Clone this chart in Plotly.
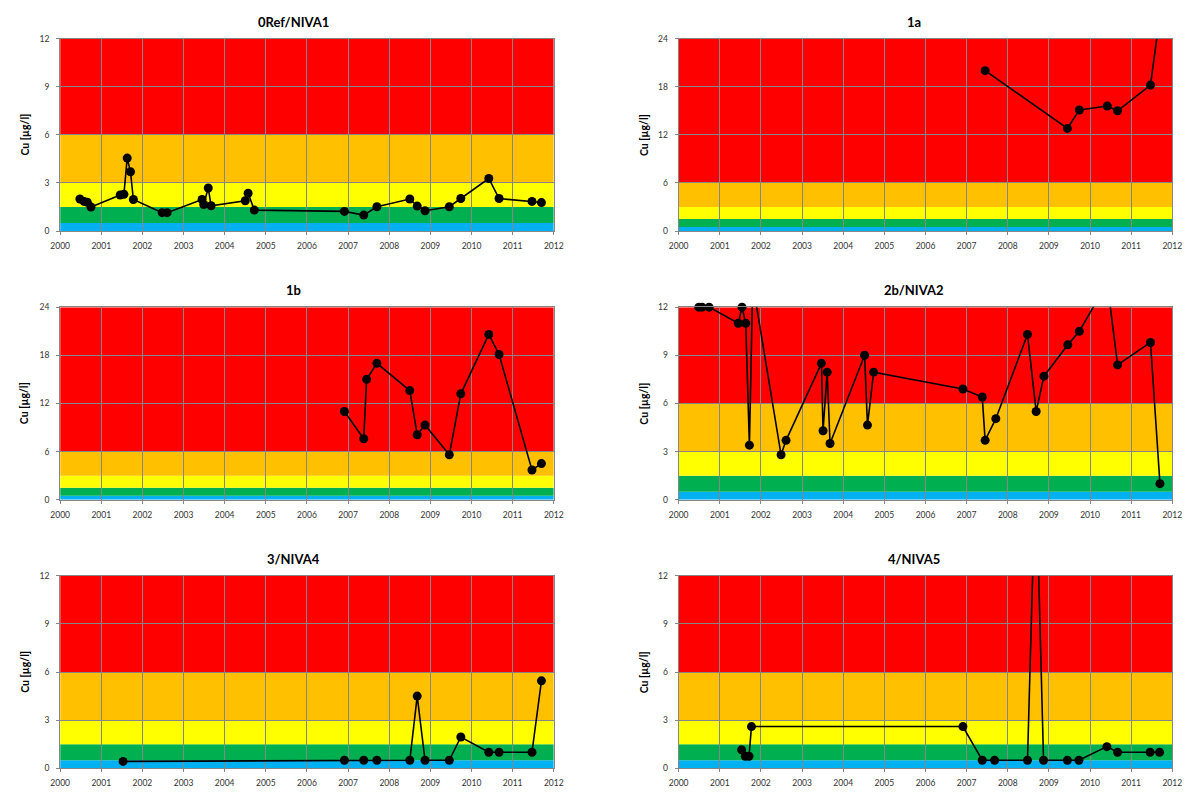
import plotly.graph_objects as go

# ---------------------------------------------------------------------------
# Copper (Cu) concentrations per station, decimal year vs. µg/l
# ---------------------------------------------------------------------------
stations = ["0Ref/NIVA1", "1a", "1b", "2b/NIVA2", "3/NIVA4", "4/NIVA5"]

dates_0ref = [2000.48, 2000.58, 2000.66, 2000.75, 2001.46, 2001.55, 2001.63, 2001.71,
              2001.78, 2002.48, 2002.60, 2003.45, 2003.49, 2003.60, 2003.67, 2004.50,
              2004.57, 2004.72, 2006.91, 2007.38, 2007.70, 2008.50, 2008.68, 2008.87,
              2009.46, 2009.74, 2010.42, 2010.67, 2011.47, 2011.70]
cu_0ref = [2.0, 1.85, 1.8, 1.5, 2.25, 2.3, 4.55, 3.7, 1.97, 1.15, 1.15, 1.97, 1.66, 2.69,
           1.58, 1.89, 2.36, 1.31, 1.23, 1.0, 1.52, 2.0, 1.56, 1.27, 1.52, 2.03, 3.28,
           2.03, 1.85, 1.78]

dates_1a = [2007.45, 2009.45, 2009.74, 2010.42, 2010.67, 2011.47, 2011.70]
cu_1a = [20.0, 12.8, 15.1, 15.6, 15.0, 18.2, 27.0]

dates_1b = [2006.91, 2007.38, 2007.45, 2007.70, 2008.50, 2008.68, 2008.87, 2009.46,
            2009.74, 2010.42, 2010.67, 2011.47, 2011.70]
cu_1b = [11.0, 7.6, 15.0, 17.0, 13.6, 8.1, 9.3, 5.6, 13.2, 20.6, 18.1, 3.7, 4.5]

dates_2b = [2000.49, 2000.57, 2000.74, 2001.45, 2001.54, 2001.63, 2001.72, 2001.80,
            2002.49, 2002.61, 2003.47, 2003.51, 2003.61, 2003.68, 2004.52, 2004.59,
            2004.74, 2006.91, 2007.38, 2007.45, 2007.71, 2008.48, 2008.69, 2008.88,
            2009.46, 2009.74, 2010.42, 2010.67, 2011.47, 2011.70]
cu_2b = [12.0, 12.0, 12.0, 11.0, 12.0, 11.0, 3.4, 13.5, 2.8, 3.7, 8.5, 4.3, 7.95, 3.5,
         9.0, 4.65, 7.95, 6.9, 6.4, 3.7, 5.05, 10.3, 5.5, 7.7, 9.65, 10.5, 13.5, 8.4,
         9.8, 1.0]

dates_3 = [2001.53, 2006.91, 2007.38, 2007.70, 2008.50, 2008.68, 2008.87, 2009.46,
           2009.74, 2010.42, 2010.67, 2011.47, 2011.70]
cu_3 = [0.43, 0.5, 0.5, 0.5, 0.5, 4.5, 0.5, 0.5, 1.95, 1.0, 1.0, 1.0, 5.45]

dates_4 = [2001.53, 2001.62, 2001.71, 2001.77, 2006.91, 2007.38, 2007.68, 2008.48,
           2008.68, 2008.87, 2009.45, 2009.73, 2010.41, 2010.67, 2011.46, 2011.69]
cu_4 = [1.15, 0.75, 0.75, 2.6, 2.6, 0.5, 0.5, 0.5, 19.0, 0.5, 0.5, 0.5, 1.35, 1.0,
        1.0, 1.0]

series_dates = [dates_0ref, dates_1a, dates_1b, dates_2b, dates_3, dates_4]
series_cu = [cu_0ref, cu_1a, cu_1b, cu_2b, cu_3, cu_4]

# y-axis maximum for each station panel
y_max = [12, 24, 24, 12, 12, 12]

# Year ticks on the x axis
years = list(range(2000, 2013))
year_labels = [str(y) for y in years]

# Environmental quality classes (lower limits, µg/l) and their colours
class_limits = [0, 0.5, 1.5, 3, 6]
class_colors = ["#00B0F0", "#00B050", "#FFFF00", "#FFC000", "#FF0000"]

# ---------------------------------------------------------------------------
# Layout geometry (pixels)
# ---------------------------------------------------------------------------
W, H = 1200, 796
col_px = [(51, 553), (680, 1182)]
row_px = [(34, 229), (306, 501), (578, 773)]
title_x_px = [288, 919]
ytitle_x_px = [15, 645]

FONT = "Lato"
GRID = "#868686"
TICK_TEXT = "#333333"

fig = go.Figure()
shapes = []
annotations = []

for i, name in enumerate(stations):
    n = i + 1
    row, col = divmod(i, 2)
    x0p, x1p = col_px[col]
    top, bot = row_px[row]
    xdom = [x0p / W, x1p / W]
    ydom = [1 - bot / H, 1 - top / H]
    xa = "x" if n == 1 else f"x{n}"
    ya = "y" if n == 1 else f"y{n}"
    ymax = y_max[i]

    # colour bands for the quality classes
    for k, lo in enumerate(class_limits):
        hi = class_limits[k + 1] if k + 1 < len(class_limits) else ymax
        shapes.append(dict(
            type="rect", xref=xa, yref=ya,
            x0=years[0], x1=years[-1], y0=lo, y1=hi,
            fillcolor=class_colors[k], line=dict(width=0), layer="below",
        ))

    fig.add_trace(go.Scatter(
        x=series_dates[i], y=series_cu[i],
        mode="lines+markers",
        line=dict(color="black", width=1.6),
        marker=dict(size=9, color="black"),
        cliponaxis=False,
        xaxis=xa, yaxis=ya,
        showlegend=False,
        hoverinfo="x+y",
    ))

    axis_common = dict(
        showgrid=True, gridcolor=GRID, gridwidth=1,
        showline=True, linecolor=GRID, linewidth=1, mirror=True,
        ticks="outside", ticklen=3, tickcolor=GRID,
        tickfont=dict(family=FONT, size=8.5, color=TICK_TEXT),
        zeroline=False, fixedrange=True,
    )
    fig.update_layout(**{
        ("xaxis" if n == 1 else f"xaxis{n}"): dict(
            domain=xdom, anchor=ya, range=[years[0], years[-1]],
            tickmode="array", tickvals=years, ticktext=year_labels,
            ticklabelstandoff=4, **axis_common),
        ("yaxis" if n == 1 else f"yaxis{n}"): dict(
            domain=ydom, anchor=xa, range=[0, ymax],
            tickmode="array", tickvals=[ymax * q / 4 for q in range(5)],
            ticktext=[str(int(ymax * q / 4)) for q in range(5)],
            ticklabelstandoff=5, **axis_common),
    })

    # panel title
    annotations.append(dict(
        text=f"<b>{name}</b>", xref="paper", yref="paper",
        x=title_x_px[col] / W, y=1 - (top - 17) / H,
        xanchor="center", yanchor="middle", showarrow=False,
        font=dict(family=FONT, size=13, color="black"),
    ))
    # y-axis title
    annotations.append(dict(
        text="<b>Cu [µg/l]</b>", xref="paper", yref="paper",
        x=ytitle_x_px[col] / W, y=1 - ((top + bot) / 2) / H,
        xanchor="center", yanchor="middle", showarrow=False, textangle=-90,
        font=dict(family=FONT, size=10.5, color="black"),
    ))

fig.update_layout(
    width=W, height=H, autosize=False,
    margin=dict(l=0, r=0, t=0, b=0),
    paper_bgcolor="white", plot_bgcolor="white",
    shapes=shapes, annotations=annotations,
    showlegend=False,
)

fig.write_html("out.html", config={"displayModeBar": False})
